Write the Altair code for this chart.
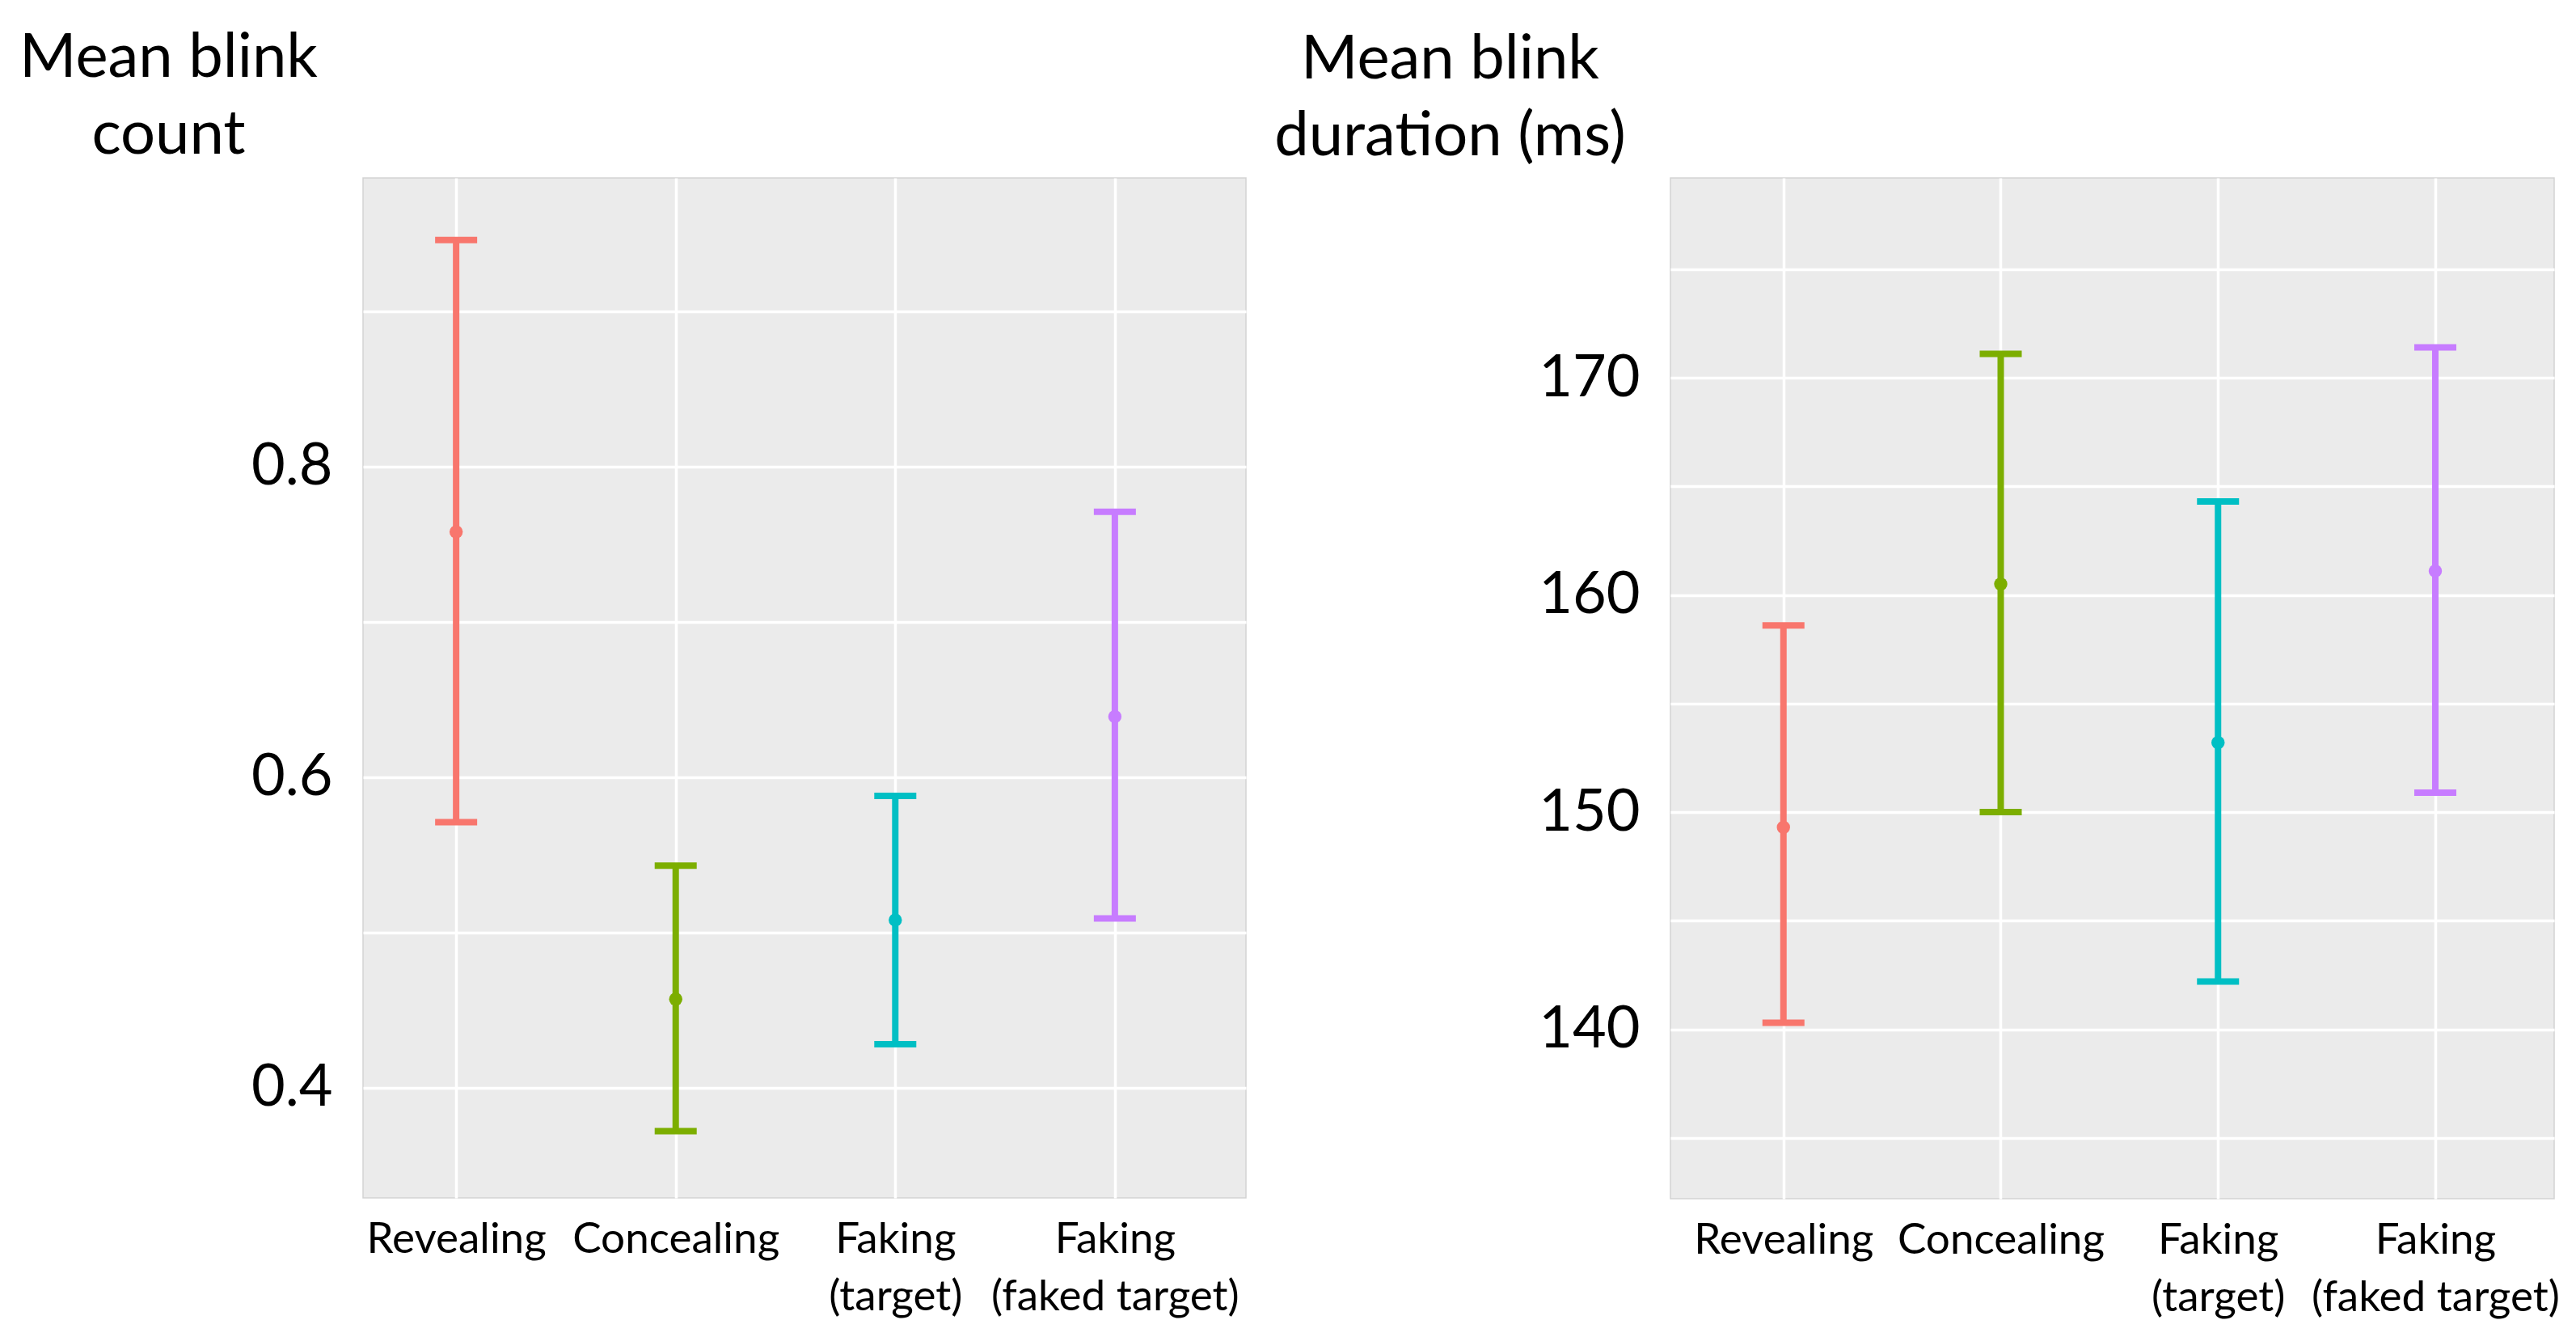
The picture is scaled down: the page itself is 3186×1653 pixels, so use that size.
import altair as alt
import pandas as pd

conditions = ["Revealing", "Concealing", "Faking|(target)", "Faking|(faked target)"]
colors = ["#F8766D", "#7CAE00", "#00BFC4", "#C77CFF"]
order = [1, 2, 3, 4]

count_mean = [0.758, 0.457, 0.508, 0.639]
count_low = [0.571, 0.372, 0.428, 0.509]
count_high = [0.946, 0.543, 0.588, 0.771]

dur_mean = [149.3, 160.5, 153.2, 161.1]
dur_low = [140.3, 150.0, 142.2, 150.9]
dur_high = [158.6, 171.1, 164.3, 171.4]

count_ticks = [0.4, 0.5, 0.6, 0.7, 0.8, 0.9]
dur_ticks = [135, 140, 145, 150, 155, 160, 165, 170, 175]

FONT = "Lato"
label_list = "[" + ",".join("'" + c + "'" for c in conditions) + "]"
x_label_expr = "split(" + label_list + "[datum.value - 1], '|')"


def panel(mean, low, high, xdomain, ydomain, yvalues, ylabel_expr, title, title_x, title_y, width, height):
    df = pd.DataFrame({"idx": order, "cond": conditions, "mean": mean, "low": low, "high": high})
    yscale = alt.Scale(domain=ydomain, nice=False, zero=False)
    base = alt.Chart(df).encode(
        x=alt.X(
            "idx:Q",
            scale=alt.Scale(domain=xdomain, nice=False, zero=False),
            axis=alt.Axis(
                values=order, labelExpr=x_label_expr, title=None, domain=False, ticks=False,
                grid=True, gridColor="white", gridWidth=3.5, labelFont=FONT, labelFontSize=53,
                labelColor="black", labelPadding=25, labelLineHeight=71, labelOverlap=False,
                labelFlush=False, labelLimit=0,
            ),
        ),
        color=alt.Color("cond:N", scale=alt.Scale(domain=conditions, range=colors), legend=None),
    )
    yaxis = alt.Axis(
        values=yvalues, labelExpr=ylabel_expr, title=title, domain=False, ticks=False,
        grid=True, gridColor="white", gridWidth=3.5, labelFont=FONT, labelFontSize=72,
        labelColor="black", labelPadding=38, labelOverlap=False, labelFlush=False, labelLimit=0,
        titleFont=FONT, titleFontSize=76, titleFontWeight="normal", titleColor="black",
        titleAngle=0, titleAlign="center", titleBaseline="alphabetic",
        titleX=title_x, titleY=title_y, titleLineHeight=95, titleLimit=0,
    )
    rule = base.mark_rule(strokeWidth=8).encode(
        y=alt.Y("low:Q", scale=yscale, axis=yaxis), y2="high:Q"
    )
    cap_lo = base.mark_tick(orient="horizontal", thickness=8, size=52, opacity=1).encode(
        y=alt.Y("low:Q", scale=yscale)
    )
    cap_hi = base.mark_tick(orient="horizontal", thickness=8, size=52, opacity=1).encode(
        y=alt.Y("high:Q", scale=yscale)
    )
    pt = base.mark_circle(size=270, opacity=1).encode(y=alt.Y("mean:Q", scale=yscale))
    return alt.layer(rule, cap_lo, cap_hi, pt).properties(width=width, height=height)


left = panel(
    count_mean, count_low, count_high, [0.576, 4.597], [0.329, 0.986], count_ticks,
    "round(datum.value * 10) % 2 == 0 ? format(datum.value, '.1f') : ''",
    ["Mean blink", "count"], -241, -126, 1092, 1261,
)
right = panel(
    dur_mean, dur_low, dur_high, [0.48, 4.547], [132.2, 179.2], dur_ticks,
    "datum.value % 10 == 0 ? format(datum.value, 'd') : ''",
    ["Mean blink", "duration (ms)"], -273, -124, 1093, 1262,
)

chart = (
    alt.hconcat(left, right, spacing=32)
    .properties(padding={"left": 14, "top": 24, "right": 0, "bottom": 0}, background="white")
    .configure_view(fill="#EBEBEB", stroke="#d3d3d3", strokeWidth=1.5)
)

chart.save("out.html", embed_options={"renderer": "svg", "actions": False})
